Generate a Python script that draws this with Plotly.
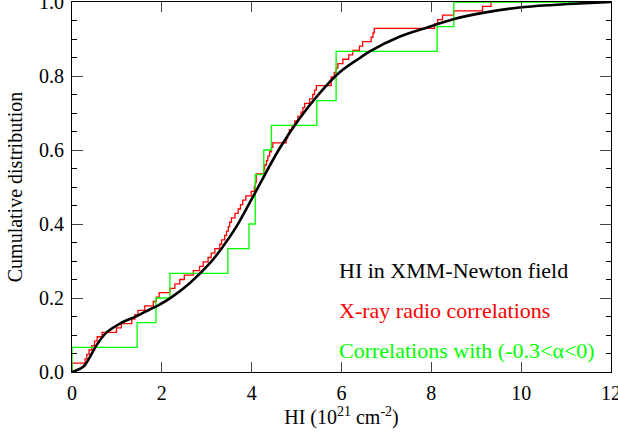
import plotly.graph_objects as go

# black: smooth cumulative distribution of HI in the XMM-Newton field
hi_x = [0, 0.25, 0.4, 0.55, 0.77, 1.07, 1.44, 1.73, 1.96, 2.18, 2.62, 3.07, 3.36,
        3.66, 4.07, 4.62, 5.07, 5.51, 5.96, 6.4, 6.62, 7.29, 7.96, 8.47, 9.21,
        9.96, 10.7, 11.3, 12]
hi_y = [0, 0.014, 0.041, 0.073, 0.107, 0.131, 0.151, 0.169, 0.183, 0.199, 0.24,
        0.294, 0.339, 0.393, 0.483, 0.604, 0.686, 0.753, 0.81, 0.848, 0.866,
        0.906, 0.933, 0.953, 0.972, 0.985, 0.992, 0.996, 1.0]

# red: HI values of the X-ray / radio correlations (sorted)
xray_radio = [0, 0, 0.29, 0.33, 0.38, 0.44, 0.50, 0.56, 0.67, 0.99, 1.10, 1.33,
              1.40, 1.47, 1.62, 1.81, 1.88, 1.94, 2.18, 2.29, 2.40, 2.50, 2.70,
              2.84, 2.92, 3.03, 3.10, 3.18, 3.29, 3.33, 3.40, 3.44, 3.48, 3.51,
              3.55, 3.63, 3.70, 3.75, 3.80, 3.87, 3.99, 4.06, 4.08, 4.10, 4.10,
              4.27, 4.29, 4.33, 4.36, 4.40, 4.44, 4.47, 4.77, 4.80, 4.84, 4.90,
              4.96, 5.03, 5.10, 5.14, 5.18, 5.29, 5.36, 5.40, 5.44, 5.77, 5.77,
              5.84, 5.88, 5.92, 6.03, 6.16, 6.25, 6.40, 6.47, 6.66, 6.70, 6.73,
              8.07, 8.14, 8.25, 8.50, 9.14, 9.33]

# green: HI values of the correlations with -0.3 < alpha < 0 (sorted)
flat_alpha = [0, 1.45, 1.87, 2.18, 3.47, 3.94, 4.08, 4.08, 4.27, 4.44, 5.45,
              5.88, 5.88, 8.13, 8.50]

legend_text = ["HI in XMM-Newton field", "X-ray radio correlations",
               "Correlations with (-0.3<\u03b1<0)"]
legend_colors = ["black", "#ff0000", "#00ff00"]
legend_y = [0.273, 0.165, 0.059]

SERIF = "Liberation Serif, Times New Roman, Times, serif"


def ecdf(values, x_end=None):
    n = len(values)
    xs = [values[0]] + list(values)
    ys = [0] + [(i + 1) / n for i in range(n)]
    if x_end is not None:
        xs.append(x_end)
        ys.append(1.0)
    return xs, ys


fig = go.Figure()

rx, ry = ecdf(xray_radio)
fig.add_trace(go.Scatter(x=rx, y=ry, mode="lines", line=dict(color="#ff0000", width=1.3, shape="hv"),
                         showlegend=False))
gx, gy = ecdf(flat_alpha, x_end=12)
fig.add_trace(go.Scatter(x=gx, y=gy, mode="lines", line=dict(color="#00ff00", width=1.3, shape="hv"),
                         showlegend=False))
fig.add_trace(go.Scatter(x=hi_x, y=hi_y, mode="lines", line=dict(color="black", width=2.6, shape="spline"),
                         showlegend=False))

for txt, col, yy in zip(legend_text, legend_colors, legend_y):
    fig.add_annotation(x=5.93, y=yy, text=txt, showarrow=False, xanchor="left", yanchor="middle",
                       borderpad=0, font=dict(color=col, size=22, family=SERIF))

tick_font = dict(family=SERIF, size=20, color="black")

fig.update_xaxes(range=[0, 12], tickvals=[0, 2, 4, 6, 8, 10, 12], ticks="inside", ticklen=10,
                 showline=True, linecolor="black", linewidth=1, mirror="ticks", showgrid=False,
                 zeroline=False, tickfont=tick_font, automargin=False, ticklabeloverflow="allow",
                 ticklabelstandoff=3,
                 title=dict(text="HI (10<sup>21</sup> cm<sup>-2</sup>)", font=tick_font, standoff=0))
fig.update_yaxes(range=[0, 1.0], tickvals=[0, 0.2, 0.4, 0.6, 0.8, 1.0], tickformat=".1f",
                 ticks="inside", ticklen=11, showline=True, linecolor="black", linewidth=1,
                 mirror="ticks", showgrid=False, zeroline=False, tickfont=tick_font,
                 automargin=False, ticklabeloverflow="allow", ticklabelstandoff=3,
                 minor=dict(dtick=0.05, ticks="inside", ticklen=5, tickcolor="black"),
                 title=dict(text="Cumulative distribution", font=tick_font, standoff=11))

# right-hand axis only to repeat the minor ticks
fig.update_layout(yaxis2=dict(overlaying="y", side="right", range=[0, 1.0], showticklabels=False,
                              tickvals=[0, 0.2, 0.4, 0.6, 0.8, 1.0], ticks="inside", ticklen=11,
                              showgrid=False, zeroline=False, showline=False,
                              minor=dict(dtick=0.05, ticks="inside", ticklen=5, tickcolor="black")))
fig.add_trace(go.Scatter(x=[0], y=[0], yaxis="y2", mode="markers", marker=dict(opacity=0),
                         hoverinfo="skip", showlegend=False))

fig.update_layout(width=618, height=432, margin=dict(l=72, r=7, t=2, b=60),
                  plot_bgcolor="white", paper_bgcolor="white",
                  font=dict(family=SERIF, color="black"))

# drop the browser's default 8px body margin so the figure sits at the page corner
fig.write_html("out.html", config={"displayModeBar": False},
               post_script="document.body.style.margin = '0px';")
